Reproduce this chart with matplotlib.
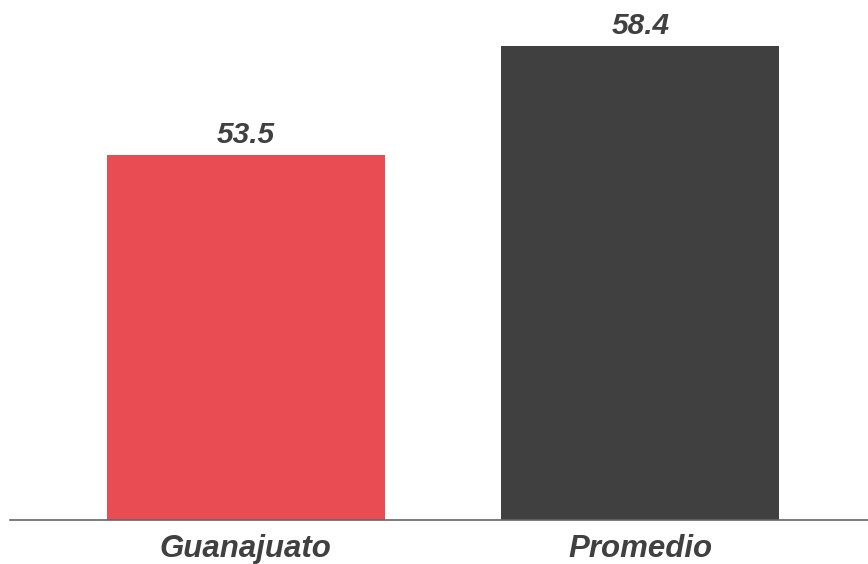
import matplotlib
matplotlib.use("Agg")
import matplotlib.pyplot as plt

categories = ["Guanajuato", "Promedio"]
values = [53.5, 58.4]
colors = ["#E94C52", "#404040"]
text_color = "#404040"

fig = plt.figure(figsize=(8.68, 5.64), dpi=100)
ax = fig.add_axes([10/868, 1 - 520/564, 858/868, 520/564])

x = list(range(len(categories)))
ax.bar(x, values, width=0.705, color=colors, zorder=2)

ax.set_xlim(-0.598, 1.577)
ax.set_ylim(37.09, 60.47)

for xi, v in zip(x, values):
    ax.annotate(f"{v:.1f}", (xi, v), xytext=(0, 4), textcoords="offset points",
                ha="center", va="bottom", fontsize=21.5, fontweight="bold",
                fontstyle="italic", family="Liberation Sans", color=text_color)

ax.set_xticks(x)
ax.set_xticklabels(categories, fontsize=22.5, fontweight="bold", fontstyle="italic",
                   family="Liberation Sans", color=text_color)
ax.tick_params(axis="x", length=0, pad=10)
ax.set_yticks([])
for s in ["top", "right", "left"]:
    ax.spines[s].set_visible(False)
ax.spines["bottom"].set_color("#666666")
ax.spines["bottom"].set_linewidth(1.2)
ax.patch.set_alpha(0)

fig.savefig("out.png", dpi=100)
